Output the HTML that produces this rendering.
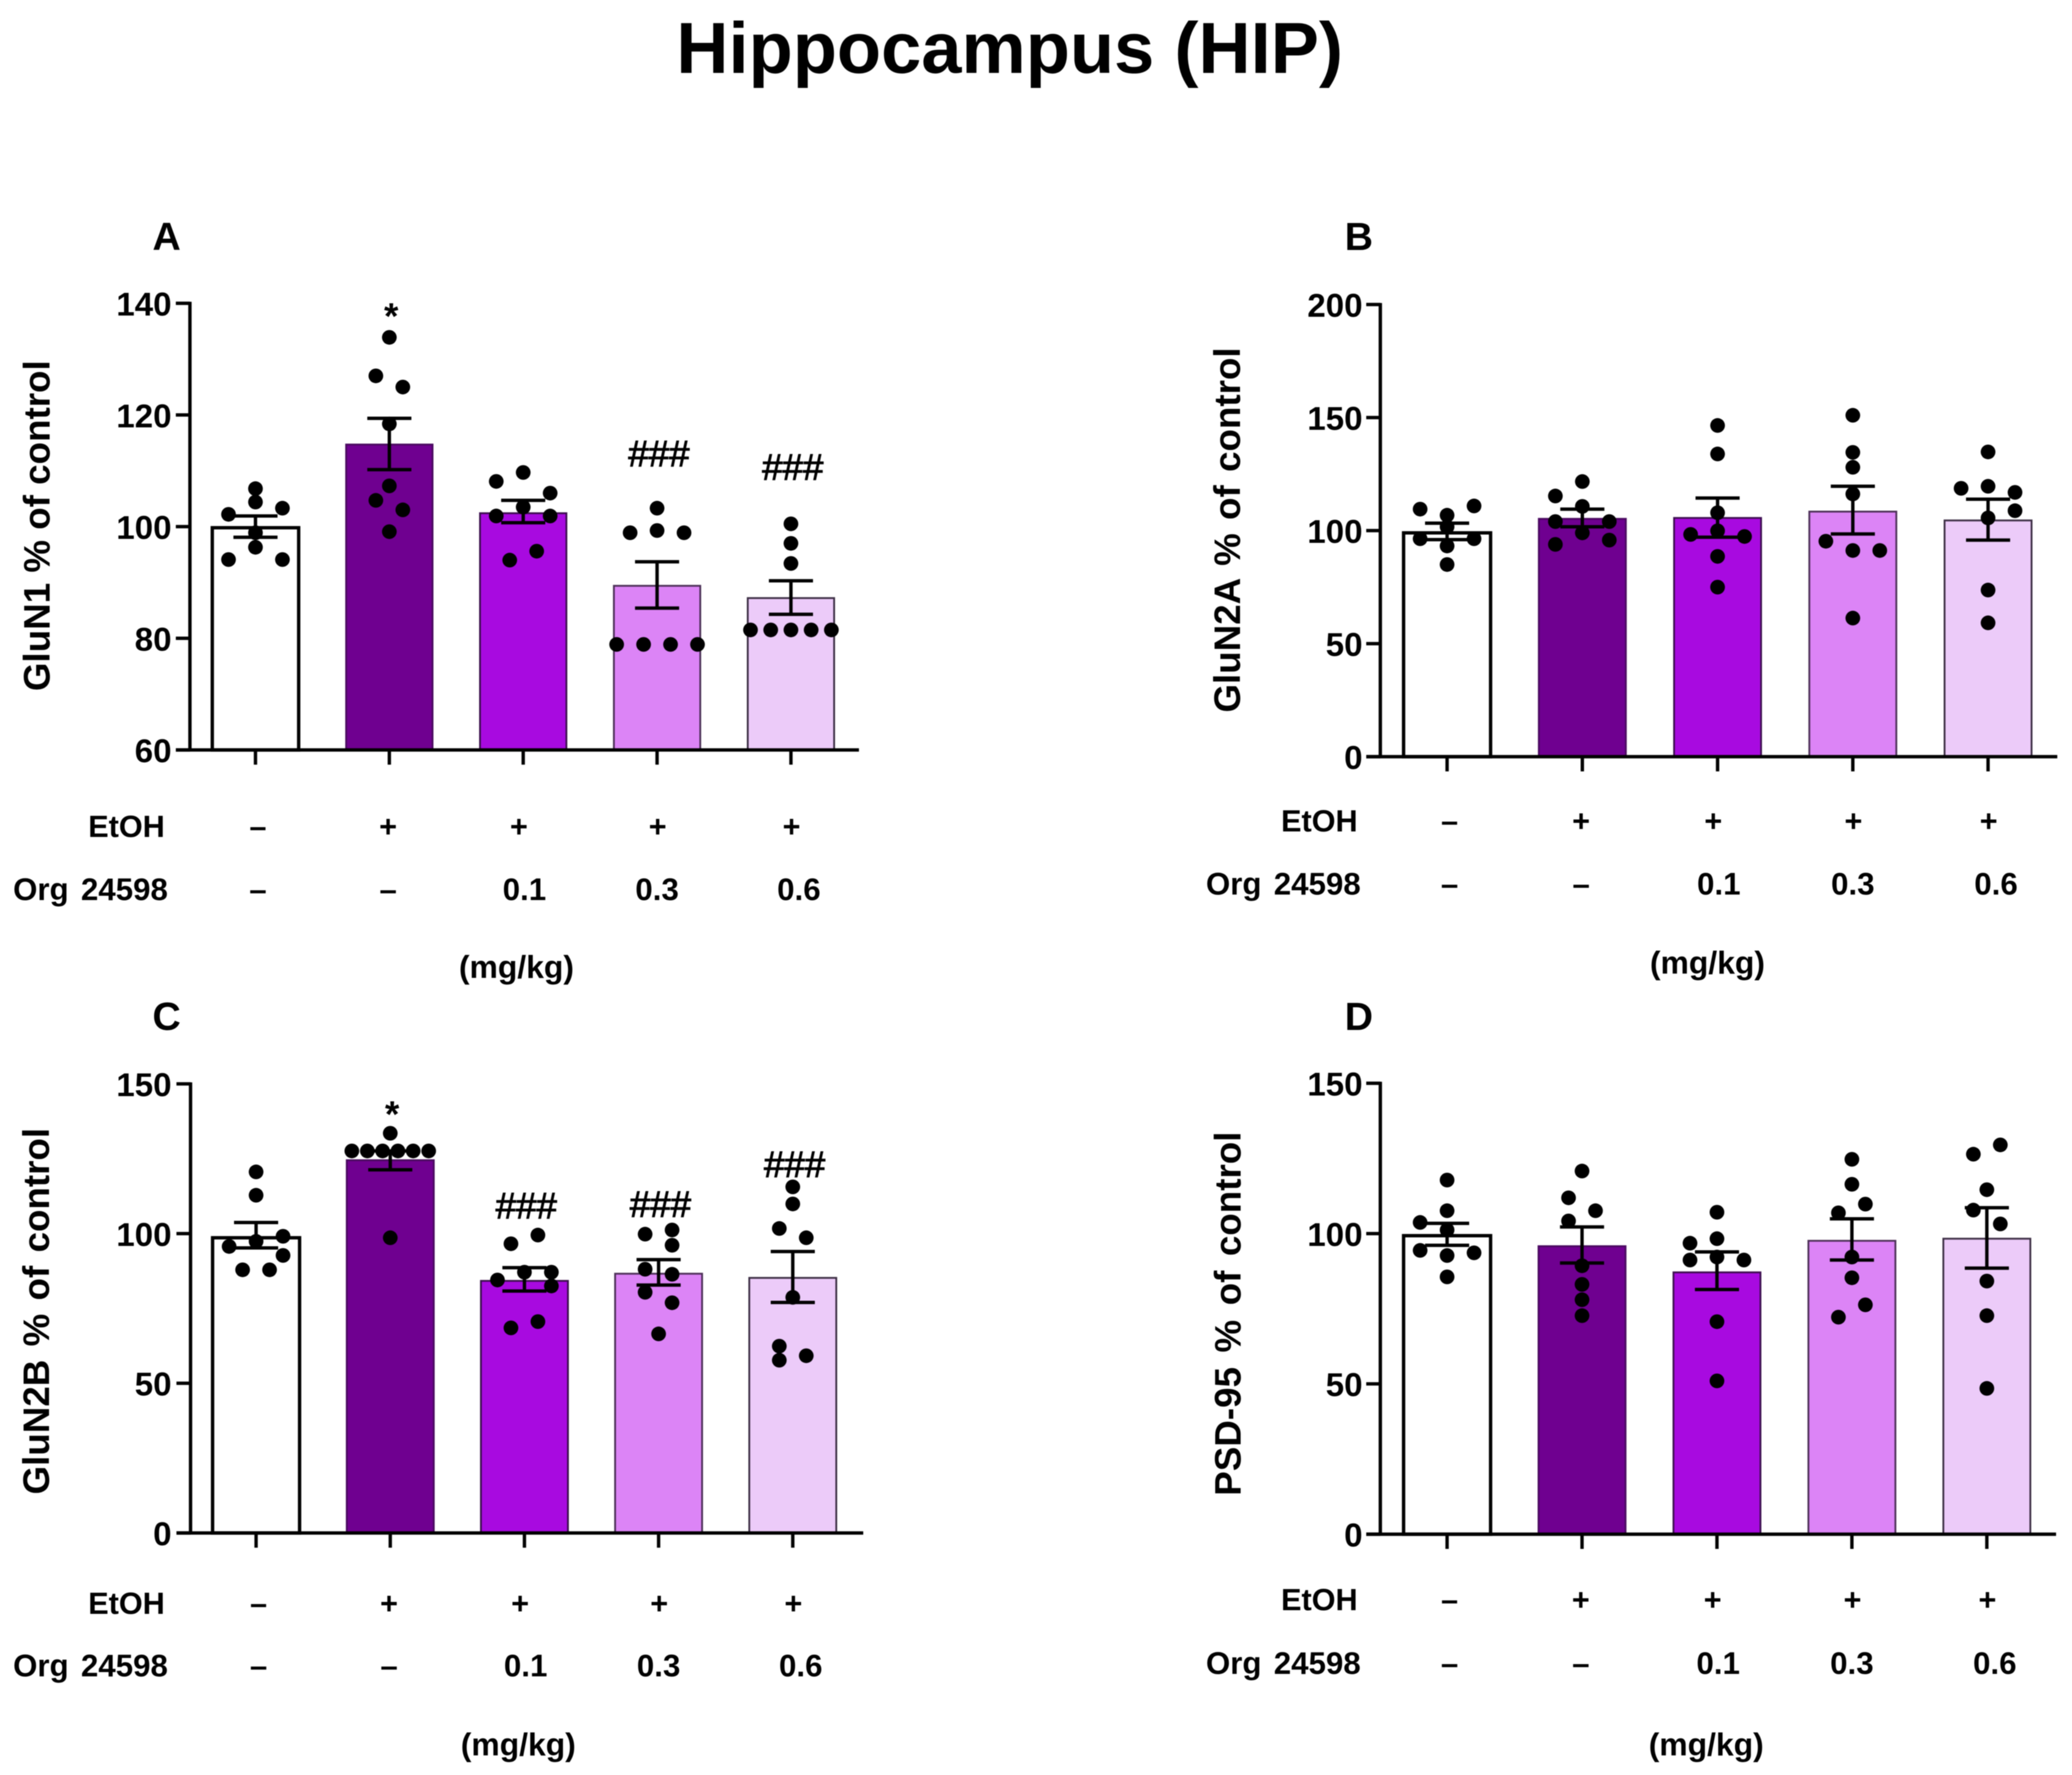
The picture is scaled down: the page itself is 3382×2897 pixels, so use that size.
<!DOCTYPE html>
<html lang="en">
<head>
<meta charset="utf-8">
<title>Hippocampus (HIP)</title>
<style>
  html, body { margin: 0; padding: 0; background: #fff; }
  svg { display: block; font-family: "Liberation Sans", sans-serif; font-weight: bold; fill: #000; filter: blur(0.8px); }
</style>
</head>
<body>
<svg id="figure" xmlns="http://www.w3.org/2000/svg" width="3382" height="2897" viewBox="0 0 3382 2897">
  <rect x="0" y="0" width="3382" height="2897" fill="#fff"></rect>
  <text x="1648" y="119" font-size="118" text-anchor="middle">Hippocampus (HIP)</text>
</svg>
<script>
// ---------- Shared categories and table labels ----------
const categories = ['control', 'etoh', 'etoh-org-0-1', 'etoh-org-0-3', 'etoh-org-0-6'];
const etohLabels = ['–', '+', '+', '+', '+'];
const orgLabels = ['–', '–', '0.1', '0.3', '0.6'];

// ---------- Panel A: GluN1 ----------
const panelATicks = [60, 80, 100, 120, 140];
const panelAMeans = [99.8, 114.7, 102.4, 89.4, 87.2];
const panelAErrHigh = [101.9, 119.4, 104.7, 93.7, 90.3];
const panelAErrLow = [98.1, 110.2, 100.7, 85.4, 84.3];
const panelADots = [
  [106.8, 104.4, 103.3, 102.2, 98.9, 96.3, 94.1, 94.1],
  [133.9, 127, 125, 118.4, 107.3, 104.7, 103, 99.1],
  [109.7, 108.1, 106, 103.5, 101.9, 101.9, 95.6, 94],
  [103.3, 98.9, 99.3, 98.9, 78.9, 78.9, 78.9, 78.9],
  [100.5, 97, 93.4, 81.5, 81.5, 81.5, 81.5, 81.5]
];
// swarm column of each dot (categorical jitter rank, not pixels)
const panelASwarm = [
  [0, 0, 2, -2, 0, 0, -2, 2],
  [0, -1, 1, 0, 0, -1, 1, 0],
  [0, -2, 2, 0, -2, 2, 1, -1],
  [0, -2, 0, 2, -3, -1, 1, 3],
  [0, 0, 0, -3, -1.5, 0, 1.5, 3]
];

// ---------- Panel B: GluN2A ----------
const panelBTicks = [0, 50, 100, 150, 200];
const panelBMeans = [99, 105.2, 105.6, 108.4, 104.5];
const panelBErrHigh = [103.3, 109.5, 114.4, 119.6, 113.9];
const panelBErrLow = [96, 101.7, 97.1, 98.5, 95.8];
const panelBDots = [
  [109.5, 110.9, 106.8, 101.7, 96.4, 96.4, 93.2, 85],
  [121.7, 115.3, 110.7, 104, 104, 99, 95.8, 93.9],
  [146.5, 133.9, 107.9, 99.9, 98.3, 97.4, 88.6, 75],
  [151, 134.6, 128, 116.2, 95.3, 91.2, 91.2, 61.3],
  [134.8, 118.7, 119.6, 116.9, 108.8, 105.6, 73.7, 59.2]
];
const panelBSwarm = [
  [-2, 2, 0, 0, -2, 2, 0, 0],
  [0, -2, 0, -2, 2, 0, 2, -2],
  [0, 0, 0, 0, -2, 2, 0, 0],
  [0, 0, 0, 0, -2, 0, 2, 0],
  [0, -2, 0, 2, 2, 0, 0, 0]
];

// ---------- Panel C: GluN2B ----------
const panelCTicks = [0, 50, 100, 150];
const panelCMeans = [98.6, 124.5, 84.2, 86.6, 85.2];
const panelCErrHigh = [103.7, 127.6, 88.6, 91.3, 94];
const panelCErrLow = [95.2, 121.3, 80.8, 82.8, 77];
const panelCDots = [
  [120.6, 112.8, 99.1, 97.4, 95.7, 92.7, 87.9, 87.9],
  [133.5, 127.6, 127.6, 127.6, 127.6, 127.6, 127.6, 98.6],
  [99.5, 96.6, 84.5, 87.1, 87.1, 82.5, 70.6, 68.5],
  [99.8, 101.2, 96.1, 88.1, 86.4, 80.4, 76.9, 66.5],
  [115.6, 109.9, 101.7, 98.6, 78.7, 62.4, 57.7, 59.2]
];
const panelCSwarm = [
  [0, 0, 2, 0, -2, 2, -1, 1],
  [0, -2.85, -1.7, -0.57, 0.57, 1.7, 2.85, 0],
  [1, -1, -2, 0, 2, 2, 1, -1],
  [-1, 1, 1, -1, 1, -1, 1, 0],
  [0, 0, -1, 1, 0, -1, -1, 1]
];

// ---------- Panel D: PSD-95 ----------
const panelDTicks = [0, 50, 100, 150];
const panelDMeans = [99.3, 95.8, 87.1, 97.6, 98.3];
const panelDErrHigh = [103.4, 102.2, 93.9, 104.9, 108.6];
const panelDErrLow = [96.1, 90.2, 81.4, 91.2, 88.5];
const panelDDots = [
  [117.8, 107.6, 103.7, 101.2, 94.4, 93.6, 92.7, 85.6],
  [120.8, 111.9, 107.6, 104.2, 89.3, 83.1, 78, 72.7],
  [107.1, 98.3, 96.8, 91.2, 92.2, 91.2, 70.7, 51],
  [124.7, 116.4, 109.8, 106.9, 92.2, 85.3, 76.3, 72.2],
  [129.5, 126.4, 114.6, 107.8, 103.2, 84.2, 72.7, 48.5]
];
const panelDSwarm = [
  [0, 0, -2, 0, -2, 2, 0, 0],
  [0, -1, 1, -1, 0, 0, 0, 0],
  [0, 0, -2, -2, 0, 2, 0, 0],
  [0, 0, 1, -1, 0, 0, 1, -1],
  [1, -1, 0, -1, 1, 0, 0, 0]
];

// ---------- Significance markers: [category index, symbol, value where it sits] ----------
const panelAMarks = [[1, '*', 138.1], [3, '###', 113], [4, '###', 110.6]];
const panelBMarks = [];
const panelCMarks = [[1, '*', 140.6], [2, '###', 109.2], [3, '###', 109.7], [4, '###', 123]];
const panelDMarks = [];

// ---------- Bar styling ----------
const barFills = ['#ffffff', '#6f0090', '#a80ae0', '#dc84f6', '#eccbf9'];
const barStrokes = ['#000000', '#4a0a60', '#3d1050', '#4d3058', '#3d2f45'];
const barStrokeWidths = [5.5, 3, 3, 3, 3];

// ---------- Panel composition and page layout (layout constants separate from data) ----------
const panels = [
  { id: 'a', letter: 'A', yTitle: 'GluN1 % of control', ticks: panelATicks, means: panelAMeans, hi: panelAErrHigh, lo: panelAErrLow, dots: panelADots, swarm: panelASwarm, marks: panelAMarks,
    axisX: 310, top: 495, bottom: 1224, right: 1402, first: 417, step: 218.5, barW: 141, tickRight: 280, letterX: 272, letterY: 387, titleX: 59, titleY: 858, titleWordGap: 0,
    rowRight: 269, orgRight: 274, etohY: 1348, orgY: 1451, unitX: 843, unitY: 1580, domainMin: 60, domainMax: 140 },
  { id: 'b', letter: 'B', yTitle: 'GluN2A % of control', ticks: panelBTicks, means: panelBMeans, hi: panelBErrHigh, lo: panelBErrLow, dots: panelBDots, swarm: panelBSwarm, marks: panelBMarks,
    axisX: 2253, top: 497, bottom: 1235, right: 3358, first: 2362, step: 220.75, barW: 142, tickRight: 2224, letterX: 2218, letterY: 387, titleX: 2002, titleY: 865, titleWordGap: 5,
    rowRight: 2216, orgRight: 2221, etohY: 1339, orgY: 1442, unitX: 2787, unitY: 1573, domainMin: 0, domainMax: 200 },
  { id: 'c', letter: 'C', yTitle: 'GluN2B % of control', ticks: panelCTicks, means: panelCMeans, hi: panelCErrHigh, lo: panelCErrLow, dots: panelCDots, swarm: panelCSwarm, marks: panelCMarks,
    axisX: 311, top: 1769, bottom: 2502, right: 1409, first: 418, step: 219, barW: 142, tickRight: 280, letterX: 272, letterY: 1660, titleX: 58, titleY: 2140, titleWordGap: 5,
    rowRight: 269, orgRight: 274, etohY: 2616, orgY: 2718, unitX: 846, unitY: 2849, domainMin: 0, domainMax: 150 },
  { id: 'd', letter: 'D', yTitle: 'PSD-95 % of control', ticks: panelDTicks, means: panelDMeans, hi: panelDErrHigh, lo: panelDErrLow, dots: panelDDots, swarm: panelDSwarm, marks: panelDMarks,
    axisX: 2253, top: 1768, bottom: 2504, right: 3356, first: 2362, step: 220.25, barW: 142, tickRight: 2224, letterX: 2218, letterY: 1660, titleX: 2003, titleY: 2144, titleWordGap: 7,
    rowRight: 2216, orgRight: 2221, etohY: 2610, orgY: 2714, unitX: 2785, unitY: 2849, domainMin: 0, domainMax: 150 }
];
const etohOffsets = [4, -2, -7, 1, 1];
const orgOffsets = [4, -2, 2, 0, 13];
const swarmUnit = 22;
const dotRadius = 12;
const capHalf = 36;
const lineW = 5.5;

const svg = document.getElementById('figure');
const NS = 'http://www.w3.org/2000/svg';

function make(tag, attrs, parent, content) {
  const node = document.createElementNS(NS, tag);
  for (const key in attrs) node.setAttribute(key, attrs[key]);
  if (content !== undefined) node.textContent = content;
  parent.appendChild(node);
  return node;
}

panels.forEach(function (p) {
  const yScale = function (v) {
    return p.bottom - (v - p.domainMin) / (p.domainMax - p.domainMin) * (p.bottom - p.top);
  };
  const xScale = function (i) {
    return p.first + i * p.step;
  };

  const group = make('g', {}, svg);
  
  

  const letter = make('text', { x: p.letterX, y: p.letterY + 21, 'font-size': 64, 'text-anchor': 'middle' }, group, p.letter);
  
  

  const yTitle = make('text', { transform: 'translate(' + (p.titleX + 22) + ' ' + p.titleY + ') rotate(-90)', 'font-size': 60, 'text-anchor': 'middle', 'word-spacing': p.titleWordGap }, group, p.yTitle);
  
  

  // Bars
  p.means.forEach(function (m, i) {
    const yTop = yScale(m);
    const bar = make('rect', {
      x: xScale(i) - p.barW / 2, y: yTop, width: p.barW, height: p.bottom - yTop,
      fill: barFills[i], stroke: barStrokes[i], 'stroke-width': barStrokeWidths[i]
    }, group);
    
    
  });

  // Dots
  p.dots.forEach(function (series, i) {
    series.forEach(function (v, j) {
      const dot = make('circle', {
        cx: xScale(i) + p.swarm[i][j] * swarmUnit, cy: yScale(v), r: dotRadius, fill: '#000'
      }, group);
      
      
    });
  });

  // Error bars
  p.means.forEach(function (m, i) {
    const cx = xScale(i);
    const yHi = yScale(p.hi[i]);
    const yLo = yScale(p.lo[i]);
    const err = make('path', {
      d: 'M' + cx + ' ' + yHi + 'V' + yLo + 'M' + (cx - capHalf) + ' ' + yHi + 'H' + (cx + capHalf) + 'M' + (cx - capHalf) + ' ' + yLo + 'H' + (cx + capHalf),
      fill: 'none', stroke: '#000', 'stroke-width': lineW
    }, group);
    
    
  });

  // Axes
  const yAxis = make('line', { x1: p.axisX, x2: p.axisX, y1: p.top - 2.5, y2: p.bottom + 2.5, stroke: '#000', 'stroke-width': lineW }, group);
  
  

  const xAxis = make('line', { x1: p.axisX - 23, x2: p.right, y1: p.bottom, y2: p.bottom, stroke: '#000', 'stroke-width': lineW }, group);
  
  

  p.ticks.forEach(function (t) {
    const tick = make('line', { x1: p.axisX - 23, x2: p.axisX, y1: yScale(t), y2: yScale(t), stroke: '#000', 'stroke-width': lineW }, group);
    
    

    const label = make('text', { x: p.tickRight, y: yScale(t) + 20, 'font-size': 54, 'text-anchor': 'end' }, group, String(t));
    
    
  });

  categories.forEach(function (c, i) {
    const tick = make('line', { x1: xScale(i), x2: xScale(i), y1: p.bottom, y2: p.bottom + 24, stroke: '#000', 'stroke-width': lineW }, group);
    
    

    const etoh = make('text', { x: xScale(i) + etohOffsets[i], y: p.etohY + 18, 'font-size': 50, 'text-anchor': 'middle' }, group, etohLabels[i]);
    
    

    const org = make('text', { x: xScale(i) + orgOffsets[i], y: p.orgY + 18, 'font-size': 51, 'text-anchor': 'middle' }, group, orgLabels[i]);
    
    
  });

  const etohHead = make('text', { x: p.rowRight, y: p.etohY + 18, 'font-size': 50, 'text-anchor': 'end' }, group, 'EtOH');
  
  

  const orgHead = make('text', { x: p.orgRight, y: p.orgY + 18, 'font-size': 51, 'text-anchor': 'end', 'word-spacing': 6 }, group, 'Org 24598');
  
  

  const unit = make('text', { x: p.unitX, y: p.unitY + 16, 'font-size': 52, 'text-anchor': 'middle' }, group, '(mg/kg)');
  
  

  // Significance markers
  p.marks.forEach(function (mark) {
    const isStar = mark[1] === '*';
    const sig = make('text', {
      x: xScale(mark[0]) + 3, y: yScale(mark[2]) + (isStar ? 24 : 20),
      'font-size': 60, 'font-weight': isStar ? 'bold' : 'normal', 'text-anchor': 'middle',
      stroke: isStar ? 'none' : '#000', 'stroke-width': isStar ? 0 : 1.4
    }, group, mark[1]);
    
    
  });
});
</script>
</body>
</html>
